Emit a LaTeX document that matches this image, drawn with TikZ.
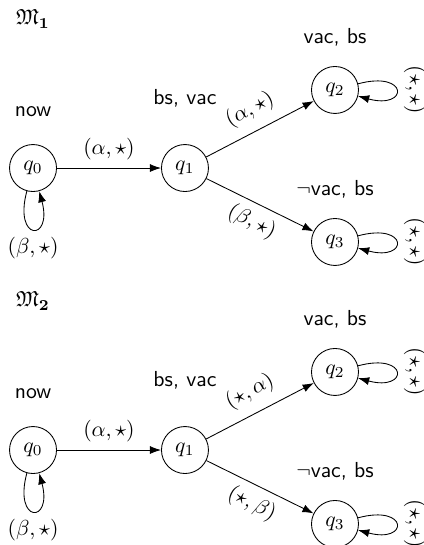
\documentclass[tikz,border=0pt]{standalone}
\usepackage{amsmath,amssymb}
\usetikzlibrary{positioning,arrows.meta}

\tikzset{
  st/.style={draw,circle,minimum size=7.6mm,inner sep=0pt},
  tr/.style={-{Latex[length=1.8mm,width=1.3mm]}},
  lp/.style={looseness=1,min distance=8.5mm},
}

\begin{document}
\begin{tikzpicture}[font=\sffamily]
  \useasboundingbox (0,0) rectangle (6.856,-8.813);
  \foreach \m/\dy/\ea/\eb in {1/0/{(\alpha,\star)}/{(\beta,\star)},
                               2/-4.56/{(\star,\alpha)}/{(\star,\beta)}}{
  \begin{scope}[yshift=\dy cm]
    \node (name\m) at (0.534,-0.307) {$\mathfrak{M}_{\mathbf{\m}}$};
    % states
    \node[st] (q0\m) at (0.534,-2.717) {$q_0$};
    \node[st] (q1\m) at (2.991,-2.717) {$q_1$};
    \node[st] (q2\m) at (5.417,-1.455) {$q_2$};
    \node[st] (q3\m) at (5.417,-3.913) {$q_3$};
    % propositions
    \node[above=3.2mm of q0\m] (p0\m) {now};
    \node[above=4.8mm of q1\m] (p1\m) {bs, vac};
    \node[above=1.9mm of q2\m] (p2\m) {vac, bs};
    \node[above=2mm of q3\m] (p3\m) {$\neg$vac, bs};
    % transitions
    \draw[tr] (q0\m) -- node[above] {$(\alpha,\star)$} (q1\m);
    \draw[tr] (q1\m) -- node[sloped,above=1.5pt] {$\ea$} (q2\m);
    \draw[tr] (q1\m) -- node[sloped,below] {$\eb$} (q3\m);
    \draw[tr] (q0\m) to[out=-105,in=-75,lp] node[below] {$(\beta,\star)$} (q0\m);
    \draw[tr] (q2\m) to[out=15,in=-15,lp] node[sloped,above] {$(\star,\star)$} (q2\m);
    \draw[tr] (q3\m) to[out=15,in=-15,lp] node[sloped,above] {$(\star,\star)$} (q3\m);
  \end{scope}
  }
\end{tikzpicture}
\end{document}
